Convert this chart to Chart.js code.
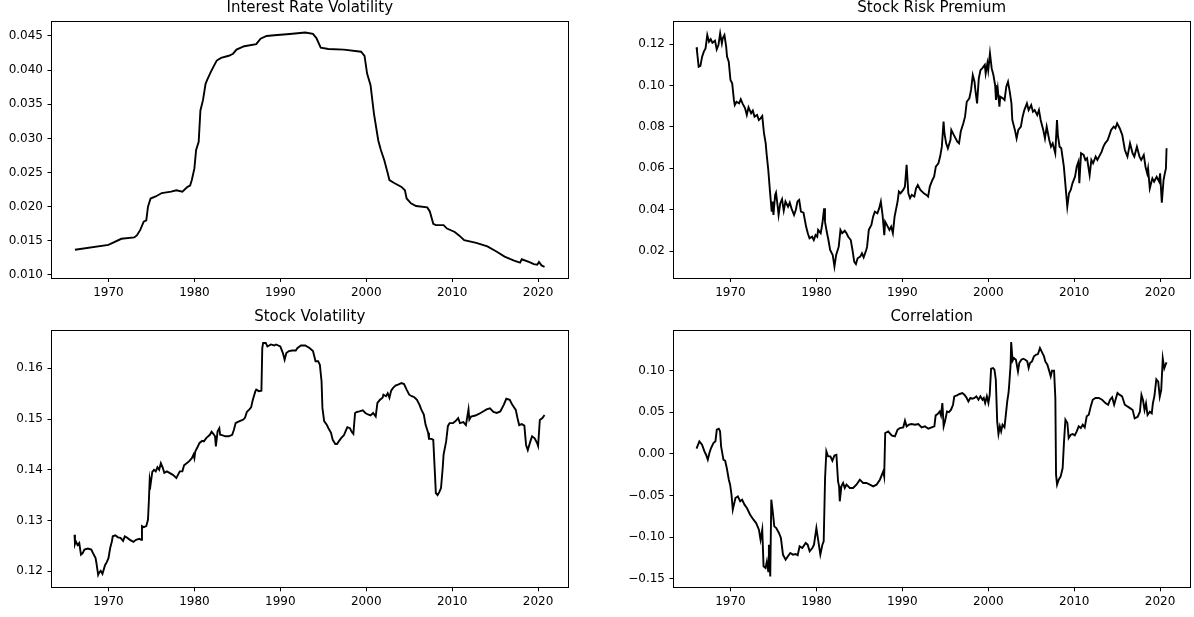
<!DOCTYPE html>
<html><head><meta charset="utf-8">
<script src="https://cdn.jsdelivr.net/npm/chart.js@4.4.1/dist/chart.umd.min.js"></script>
<style>
html,body{margin:0;padding:0;background:#fff;overflow:hidden}
#wrap{position:relative;width:1194px;height:617px;background:#fff}
#wrap canvas{position:absolute;left:0;top:0}
</style></head><body><div id="wrap">
<canvas id="c0" width="1194" height="617"></canvas>
<canvas id="c1" width="1194" height="617"></canvas>
<canvas id="c2" width="1194" height="617"></canvas>
<canvas id="c3" width="1194" height="617"></canvas>
</div>
<script>
// ---- data (year, value) ----
const xTickYears = [1970, 1980, 1990, 2000, 2010, 2020];
const xRange = [1963.37, 2023.48];

const titles = ["Interest Rate Volatility", "Stock Risk Premium", "Stock Volatility", "Correlation"];

const irvTicks = [0.010, 0.015, 0.020, 0.025, 0.030, 0.035, 0.040, 0.045];
const srpTicks = [0.02, 0.04, 0.06, 0.08, 0.10, 0.12];
const svTicks = [0.12, 0.13, 0.14, 0.15, 0.16];
const corrTicks = [-0.15, -0.10, -0.05, 0.00, 0.05, 0.10];

const irvSeries = [[1966.1,0.0137],[1970.0,0.0144],[1971.5,0.0153],[1973.0,0.0155],[1973.3,0.0158],[1973.7,0.0166],[1974.1,0.0178],[1974.4,0.0180],[1974.6,0.0200],[1974.9,0.0212],[1975.5,0.0215],[1976.2,0.0220],[1977.3,0.0222],[1977.9,0.0224],[1978.6,0.0222],[1979.2,0.0229],[1979.5,0.0231],[1979.7,0.0239],[1980.0,0.0256],[1980.2,0.0283],[1980.5,0.0295],[1980.7,0.0341],[1981.0,0.0356],[1981.3,0.0380],[1981.5,0.0386],[1981.9,0.0397],[1982.3,0.0407],[1982.6,0.0414],[1983.1,0.0418],[1984.0,0.0421],[1984.5,0.0424],[1984.9,0.0430],[1985.8,0.0435],[1987.2,0.0438],[1987.7,0.0446],[1988.4,0.0450],[1989.3,0.0451],[1991.1,0.0453],[1992.9,0.0455],[1993.8,0.0453],[1994.2,0.0447],[1994.7,0.0433],[1995.6,0.0431],[1997.4,0.0430],[1999.4,0.0427],[1999.8,0.0421],[2000.1,0.0395],[2000.5,0.0378],[2000.9,0.0336],[2001.4,0.0297],[2001.7,0.0283],[2002.1,0.0268],[2002.5,0.0249],[2002.7,0.0239],[2003.2,0.0235],[2004.1,0.0229],[2004.5,0.0224],[2004.7,0.0212],[2005.2,0.0205],[2005.8,0.0201],[2007.1,0.0199],[2007.4,0.0193],[2007.8,0.0175],[2008.1,0.0173],[2009.0,0.0173],[2009.4,0.0168],[2010.3,0.0163],[2010.8,0.0158],[2011.4,0.0151],[2012.8,0.0147],[2014.1,0.0142],[2015.2,0.0134],[2016.1,0.0127],[2017.2,0.0121],[2017.9,0.0118],[2018.1,0.0123],[2019.0,0.0119],[2019.5,0.0116],[2019.9,0.0115],[2020.1,0.0119],[2020.4,0.0114],[2020.75,0.0112]];

const srpSeries = [[1966.05,0.1184],[1966.1,0.1168],[1966.3,0.1090],[1966.5,0.1094],[1966.7,0.1139],[1966.9,0.1163],[1967.1,0.1179],[1967.3,0.1243],[1967.5,0.1211],[1967.7,0.1223],[1967.9,0.1206],[1968.2,0.1216],[1968.4,0.1174],[1968.6,0.1195],[1968.8,0.1252],[1969.0,0.1203],[1969.1,0.1227],[1969.3,0.1243],[1969.5,0.1187],[1969.6,0.1139],[1969.8,0.1115],[1970.0,0.1026],[1970.2,0.1010],[1970.4,0.0930],[1970.5,0.0905],[1970.7,0.0921],[1971.0,0.0913],[1971.2,0.0933],[1971.4,0.0913],[1971.7,0.0889],[1971.9,0.0857],[1972.1,0.0894],[1972.4,0.0865],[1972.6,0.0878],[1972.8,0.0849],[1973.1,0.0857],[1973.3,0.0833],[1973.5,0.0841],[1973.7,0.0852],[1973.9,0.0769],[1974.1,0.0720],[1974.2,0.0672],[1974.4,0.0592],[1974.6,0.0487],[1974.8,0.0390],[1974.9,0.0439],[1975.0,0.0374],[1975.2,0.0471],[1975.3,0.0482],[1975.5,0.0414],[1975.6,0.0374],[1975.8,0.0431],[1976.0,0.0450],[1976.2,0.0395],[1976.4,0.0439],[1976.7,0.0414],[1976.9,0.0434],[1977.1,0.0406],[1977.4,0.0374],[1977.6,0.0398],[1977.8,0.0439],[1978.0,0.0447],[1978.2,0.0390],[1978.5,0.0385],[1978.8,0.0318],[1979.0,0.0286],[1979.2,0.0261],[1979.5,0.0269],[1979.7,0.0253],[1979.9,0.0277],[1980.1,0.0269],[1980.2,0.0302],[1980.5,0.0286],[1980.7,0.0334],[1980.9,0.0406],[1981.0,0.0342],[1981.2,0.0294],[1981.4,0.0253],[1981.6,0.0205],[1981.9,0.0181],[1982.1,0.0125],[1982.3,0.0181],[1982.6,0.0221],[1982.8,0.0302],[1983.0,0.0286],[1983.3,0.0298],[1983.5,0.0286],[1983.7,0.0269],[1984.0,0.0253],[1984.2,0.0205],[1984.4,0.0149],[1984.6,0.0137],[1984.8,0.0165],[1985.1,0.0173],[1985.3,0.0189],[1985.5,0.0169],[1985.8,0.0205],[1985.9,0.0221],[1986.1,0.0302],[1986.4,0.0326],[1986.6,0.0366],[1986.8,0.0390],[1987.1,0.0382],[1987.3,0.0406],[1987.5,0.0439],[1987.7,0.0374],[1987.9,0.0277],[1988.0,0.0342],[1988.2,0.0326],[1988.5,0.0302],[1988.7,0.0318],[1988.9,0.0286],[1989.1,0.0366],[1989.45,0.0439],[1989.6,0.0487],[1989.8,0.0479],[1990.1,0.0495],[1990.3,0.0511],[1990.5,0.0616],[1990.7,0.0479],[1990.9,0.0455],[1991.1,0.0471],[1991.4,0.0463],[1991.6,0.0503],[1991.8,0.0519],[1992.1,0.0495],[1992.3,0.0487],[1992.5,0.0479],[1992.8,0.0471],[1993.0,0.0463],[1993.2,0.0511],[1993.5,0.0543],[1993.7,0.0559],[1993.9,0.0608],[1994.2,0.0624],[1994.4,0.0656],[1994.6,0.0704],[1994.8,0.0825],[1994.9,0.0769],[1995.1,0.0720],[1995.3,0.0696],[1995.6,0.0736],[1995.7,0.0785],[1996.0,0.0760],[1996.2,0.0744],[1996.4,0.0728],[1996.6,0.0720],[1996.8,0.0777],[1997.1,0.0817],[1997.3,0.0849],[1997.5,0.0921],[1997.8,0.0938],[1998.0,0.0978],[1998.2,0.1050],[1998.4,0.1018],[1998.5,0.0978],[1998.7,0.0913],[1998.9,0.1034],[1999.1,0.1074],[1999.3,0.1082],[1999.6,0.1099],[1999.7,0.1058],[1999.9,0.1107],[2000.0,0.1074],[2000.2,0.1155],[2000.4,0.1082],[2000.6,0.1050],[2000.8,0.1002],[2000.9,0.0930],[2001.1,0.0986],[2001.3,0.0897],[2001.4,0.0946],[2001.7,0.0938],[2001.9,0.0930],[2002.1,0.0994],[2002.3,0.1018],[2002.5,0.0970],[2002.7,0.0913],[2002.8,0.0833],[2003.1,0.0785],[2003.3,0.0744],[2003.5,0.0785],[2003.8,0.0801],[2004.0,0.0849],[2004.2,0.0881],[2004.5,0.0913],[2004.7,0.0881],[2005.0,0.0905],[2005.2,0.0873],[2005.4,0.0881],[2005.7,0.0857],[2005.9,0.0881],[2006.1,0.0833],[2006.4,0.0785],[2006.6,0.0744],[2006.8,0.0801],[2007.1,0.0736],[2007.3,0.0704],[2007.5,0.0720],[2007.8,0.0672],[2008.0,0.0833],[2008.1,0.0760],[2008.3,0.0704],[2008.5,0.0696],[2008.8,0.0608],[2009.0,0.0511],[2009.2,0.0414],[2009.4,0.0479],[2009.6,0.0495],[2009.8,0.0527],[2010.1,0.0559],[2010.3,0.0608],[2010.5,0.0632],[2010.6,0.0527],[2010.8,0.0672],[2011.1,0.0664],[2011.3,0.0640],[2011.5,0.0648],[2011.8,0.0567],[2012.0,0.0640],[2012.2,0.0624],[2012.5,0.0656],[2012.7,0.0640],[2012.9,0.0656],[2013.2,0.0680],[2013.4,0.0704],[2013.6,0.0720],[2013.9,0.0736],[2014.1,0.0760],[2014.3,0.0785],[2014.6,0.0801],[2014.8,0.0793],[2015.0,0.0817],[2015.3,0.0793],[2015.6,0.0760],[2015.9,0.0688],[2016.2,0.0656],[2016.5,0.0720],[2016.8,0.0672],[2017.0,0.0656],[2017.3,0.0704],[2017.6,0.0656],[2017.8,0.0640],[2018.1,0.0664],[2018.3,0.0607],[2018.5,0.0575],[2018.6,0.0599],[2018.8,0.0503],[2019.1,0.0551],[2019.3,0.0535],[2019.6,0.0559],[2019.9,0.0535],[2020.0,0.0575],[2020.2,0.0433],[2020.4,0.0543],[2020.55,0.0575],[2020.68,0.0599],[2020.75,0.0696]];

const svSeries = [[1966.05,0.1272],[1966.1,0.1254],[1966.2,0.1259],[1966.4,0.1252],[1966.6,0.1256],[1966.8,0.1233],[1967.0,0.1236],[1967.2,0.1243],[1967.6,0.1245],[1968.0,0.1243],[1968.2,0.1236],[1968.5,0.1226],[1968.6,0.1216],[1968.8,0.1193],[1968.9,0.1197],[1969.1,0.1201],[1969.3,0.1195],[1969.6,0.1212],[1969.8,0.1218],[1970.0,0.1226],[1970.2,0.1246],[1970.4,0.1259],[1970.5,0.1269],[1970.8,0.1271],[1971.1,0.1267],[1971.4,0.1266],[1971.7,0.1260],[1971.9,0.1269],[1972.1,0.1267],[1972.5,0.1262],[1972.9,0.1258],[1973.2,0.1262],[1973.6,0.1264],[1973.8,0.1262],[1973.9,0.1289],[1974.1,0.1287],[1974.4,0.1289],[1974.6,0.1302],[1974.7,0.1338],[1974.8,0.1381],[1974.9,0.1371],[1975.1,0.1396],[1975.3,0.1400],[1975.5,0.1397],[1975.7,0.1405],[1975.9,0.1400],[1976.1,0.1413],[1976.3,0.1405],[1976.5,0.1394],[1976.8,0.1397],[1977.1,0.1394],[1977.5,0.1390],[1977.9,0.1384],[1978.0,0.1387],[1978.3,0.1397],[1978.6,0.1397],[1978.8,0.1409],[1979.1,0.1413],[1979.4,0.1417],[1979.7,0.1423],[1979.9,0.1430],[1980.0,0.1423],[1980.1,0.1436],[1980.4,0.1446],[1980.6,0.1453],[1980.9,0.1457],[1981.1,0.1456],[1981.4,0.1463],[1981.8,0.1469],[1982.0,0.1475],[1982.2,0.1471],[1982.4,0.1466],[1982.5,0.1446],[1982.7,0.1476],[1982.9,0.1482],[1983.0,0.1469],[1983.3,0.1468],[1983.6,0.1466],[1984.0,0.1466],[1984.4,0.1469],[1984.6,0.1479],[1984.8,0.1492],[1985.0,0.1494],[1985.4,0.1497],[1985.7,0.1499],[1985.9,0.1503],[1986.1,0.1514],[1986.4,0.1519],[1986.6,0.1523],[1986.8,0.1538],[1987.1,0.1555],[1987.2,0.1558],[1987.5,0.1555],[1987.8,0.1556],[1987.9,0.1640],[1988.0,0.1650],[1988.3,0.1650],[1988.5,0.1643],[1988.9,0.1647],[1989.3,0.1645],[1989.5,0.1647],[1990.0,0.1643],[1990.3,0.1630],[1990.5,0.1617],[1990.7,0.1630],[1991.0,0.1634],[1991.4,0.1635],[1991.8,0.1635],[1992.0,0.1640],[1992.4,0.1645],[1992.9,0.1645],[1993.4,0.1640],[1993.8,0.1634],[1994.1,0.1614],[1994.4,0.1614],[1994.6,0.1607],[1994.8,0.1574],[1994.9,0.1522],[1995.1,0.1496],[1995.4,0.1489],[1995.6,0.1482],[1995.9,0.1473],[1996.1,0.1459],[1996.4,0.1451],[1996.6,0.1451],[1996.8,0.1456],[1997.1,0.1463],[1997.4,0.1468],[1997.6,0.1476],[1997.8,0.1484],[1998.1,0.1482],[1998.3,0.1475],[1998.5,0.1471],[1998.7,0.1512],[1998.9,0.1514],[1999.2,0.1515],[1999.6,0.1517],[1999.9,0.1512],[2000.2,0.1509],[2000.5,0.1507],[2000.8,0.1512],[2001.1,0.1505],[2001.3,0.1532],[2001.6,0.1538],[2001.9,0.1542],[2002.0,0.1548],[2002.3,0.1545],[2002.5,0.1551],[2002.7,0.1542],[2002.9,0.1556],[2003.1,0.1561],[2003.4,0.1566],[2003.7,0.1568],[2004.1,0.1571],[2004.4,0.1569],[2004.7,0.1558],[2005.0,0.1548],[2005.3,0.1545],[2005.6,0.1543],[2005.9,0.1538],[2006.2,0.1528],[2006.4,0.1519],[2006.7,0.1509],[2006.9,0.1489],[2007.2,0.1473],[2007.3,0.1461],[2007.6,0.1461],[2007.8,0.1459],[2008.0,0.1390],[2008.1,0.1354],[2008.3,0.1350],[2008.5,0.1356],[2008.7,0.1364],[2008.9,0.1404],[2009.0,0.1430],[2009.3,0.1456],[2009.5,0.1486],[2009.7,0.1492],[2010.1,0.1492],[2010.4,0.1496],[2010.7,0.1502],[2010.9,0.1492],[2011.3,0.1494],[2011.6,0.1488],[2011.9,0.1519],[2012.0,0.1499],[2012.2,0.1505],[2012.7,0.1507],[2013.1,0.1510],[2013.6,0.1515],[2014.0,0.1519],[2014.4,0.1521],[2014.8,0.1514],[2015.2,0.1512],[2015.6,0.1515],[2016.0,0.1528],[2016.3,0.1540],[2016.7,0.1538],[2017.0,0.1528],[2017.4,0.1518],[2017.6,0.1502],[2017.8,0.1488],[2018.1,0.1490],[2018.4,0.1487],[2018.6,0.1449],[2018.8,0.1439],[2019.1,0.1456],[2019.3,0.1466],[2019.6,0.1462],[2019.9,0.1452],[2020.0,0.1447],[2020.2,0.1498],[2020.5,0.1502],[2020.75,0.1508]];

const corrSeries = [[1966.05,0.0063],[1966.38,0.0151],[1966.69,0.0111],[1966.97,0.0031],[1967.16,-0.0010],[1967.36,-0.0070],[1967.55,0.0011],[1967.74,0.0071],[1968.02,0.0131],[1968.25,0.0151],[1968.41,0.0291],[1968.64,0.0303],[1968.79,0.0271],[1968.91,0.0091],[1969.18,-0.0070],[1969.38,-0.0082],[1969.57,-0.0170],[1969.81,-0.0310],[1969.96,-0.0370],[1970.12,-0.0490],[1970.27,-0.0670],[1970.58,-0.0530],[1970.86,-0.0510],[1971.13,-0.0570],[1971.36,-0.0550],[1971.63,-0.0610],[1971.91,-0.0650],[1972.29,-0.0731],[1972.68,-0.0791],[1972.99,-0.0831],[1973.31,-0.0911],[1973.50,-0.1031],[1973.70,-0.0911],[1973.85,-0.1351],[1974.08,-0.1371],[1974.24,-0.1291],[1974.40,-0.1411],[1974.47,-0.1091],[1974.63,-0.1472],[1974.75,-0.0550],[1974.94,-0.0711],[1975.10,-0.0871],[1975.33,-0.0891],[1975.64,-0.0951],[1975.87,-0.1011],[1976.11,-0.1211],[1976.42,-0.1271],[1976.69,-0.1231],[1976.96,-0.1191],[1977.27,-0.1211],[1977.58,-0.1203],[1977.82,-0.1219],[1978.05,-0.1111],[1978.36,-0.1131],[1978.75,-0.1071],[1978.98,-0.1091],[1979.22,-0.1171],[1979.53,-0.1131],[1979.72,-0.1091],[1980.00,-0.0891],[1980.23,-0.1051],[1980.46,-0.1211],[1980.70,-0.1091],[1980.85,-0.1051],[1981.01,-0.0290],[1981.16,0.0031],[1981.36,-0.0030],[1981.63,-0.0030],[1981.86,-0.0082],[1982.10,-0.0018],[1982.33,-0.0010],[1982.52,-0.0330],[1982.64,-0.0390],[1982.72,-0.0570],[1982.91,-0.0390],[1983.11,-0.0350],[1983.30,-0.0410],[1983.50,-0.0370],[1983.89,-0.0410],[1984.27,-0.0410],[1984.66,-0.0370],[1985.05,-0.0310],[1985.44,-0.0350],[1985.83,-0.0350],[1986.22,-0.0370],[1986.61,-0.0390],[1987.00,-0.0370],[1987.39,-0.0310],[1987.78,-0.0210],[1987.89,-0.0270],[1988.01,0.0251],[1988.36,0.0271],[1988.75,0.0223],[1989.14,0.0210],[1989.45,0.0291],[1989.72,0.0311],[1990.11,0.0319],[1990.31,0.0399],[1990.50,0.0331],[1990.77,0.0351],[1991.08,0.0359],[1991.47,0.0351],[1991.86,0.0359],[1992.25,0.0319],[1992.64,0.0331],[1993.03,0.0303],[1993.41,0.0319],[1993.73,0.0331],[1993.88,0.0463],[1994.11,0.0479],[1994.35,0.0511],[1994.50,0.0463],[1994.66,0.0611],[1994.81,0.0331],[1994.97,0.0391],[1995.20,0.0511],[1995.43,0.0503],[1995.67,0.0531],[1995.90,0.0591],[1996.05,0.0692],[1996.36,0.0704],[1996.67,0.0720],[1996.99,0.0732],[1997.22,0.0712],[1997.45,0.0680],[1997.69,0.0631],[1997.92,0.0672],[1998.15,0.0664],[1998.39,0.0672],[1998.62,0.0692],[1998.86,0.0651],[1999.09,0.0692],[1999.33,0.0651],[1999.48,0.0672],[1999.64,0.0611],[1999.84,0.0692],[2000.02,0.0611],[2000.17,0.0712],[2000.33,0.1024],[2000.56,0.1032],[2000.72,0.1012],[2000.88,0.0892],[2001.04,0.0391],[2001.19,0.0239],[2001.35,0.0331],[2001.50,0.0271],[2001.66,0.0351],[2001.89,0.0319],[2002.05,0.0471],[2002.21,0.0631],[2002.36,0.0732],[2002.44,0.0832],[2002.60,0.1072],[2002.67,0.1345],[2002.83,0.1120],[2002.99,0.1152],[2003.22,0.1132],[2003.46,0.0992],[2003.61,0.1092],[2003.85,0.1132],[2004.08,0.1144],[2004.31,0.1132],[2004.54,0.1112],[2004.70,0.1032],[2004.86,0.1092],[2005.09,0.1112],[2005.32,0.1172],[2005.55,0.1192],[2005.79,0.1200],[2006.02,0.1272],[2006.25,0.1224],[2006.49,0.1172],[2006.64,0.1112],[2006.88,0.1072],[2007.11,0.0992],[2007.27,0.0932],[2007.42,0.1000],[2007.66,0.1000],[2007.81,0.0672],[2007.89,-0.0250],[2008.01,-0.0370],[2008.20,-0.0310],[2008.43,-0.0270],[2008.66,-0.0170],[2008.82,0.0151],[2008.98,0.0411],[2009.21,0.0371],[2009.36,0.0191],[2009.60,0.0231],[2009.83,0.0239],[2010.07,0.0223],[2010.30,0.0271],[2010.53,0.0331],[2010.77,0.0311],[2011.00,0.0351],[2011.23,0.0319],[2011.46,0.0451],[2011.70,0.0471],[2011.93,0.0571],[2012.16,0.0651],[2012.48,0.0672],[2012.86,0.0672],[2013.25,0.0651],[2013.64,0.0611],[2013.95,0.0591],[2014.18,0.0651],[2014.42,0.0680],[2014.65,0.0591],[2014.81,0.0651],[2015.04,0.0732],[2015.27,0.0712],[2015.58,0.0692],[2015.89,0.0591],[2016.37,0.0559],[2016.81,0.0527],[2017.04,0.0427],[2017.39,0.0447],[2017.65,0.0507],[2017.83,0.0708],[2018.01,0.0647],[2018.19,0.0527],[2018.36,0.0607],[2018.54,0.0467],[2018.81,0.0507],[2019.03,0.0487],[2019.16,0.0607],[2019.34,0.0696],[2019.56,0.0896],[2019.78,0.0868],[2019.96,0.0688],[2020.13,0.0768],[2020.31,0.1148],[2020.49,0.1028],[2020.62,0.1068],[2020.75,0.1100]];

// ---- rendering ----
Chart.defaults.font.family = "'DejaVu Sans', sans-serif";
Chart.defaults.color = '#000';

const W = 1194, H = 617;
const panels = [
  {id:'c0', series:irvSeries, title:titles[0], ticks:irvTicks, dec:3, yMin:0.00956, yMax:0.04712, area:{l:51.5, t:21.5, r:568, b:278}, yw:51.5},
  {id:'c1', series:srpSeries, title:titles[1], ticks:srpTicks, dec:2, yMin:0.00696, yMax:0.13087, area:{l:673.5, t:21.5, r:1190, b:278}, yw:60},
  {id:'c2', series:svSeries, title:titles[2], ticks:svTicks, dec:2, yMin:0.11685, yMax:0.16739, area:{l:51.5, t:330.8, r:568, b:587.3}, yw:51.5},
  {id:'c3', series:corrSeries, title:titles[3], ticks:corrTicks, dec:2, yMin:-0.16034, yMax:0.14796, area:{l:673.5, t:330.8, r:1190, b:587.3}, yw:60}
];

const framePlugin = {
  id: 'frame',
  afterDraw(chart) {
    const a = chart.chartArea, ctx = chart.ctx;
    ctx.save();
    ctx.strokeStyle = '#000';
    ctx.lineWidth = 1;
    const x0 = Math.floor(a.left) + 0.5, x1 = Math.floor(a.right) + 0.5;
    const y0 = Math.floor(a.top) + 0.5, y1 = Math.floor(a.bottom) + 0.5;
    ctx.strokeRect(x0, y0, x1 - x0, y1 - y0);
    ctx.restore();
  }
};

function fmt(v, d) {
  const s = Math.abs(v).toFixed(d);
  return (v < -1e-12 ? '\u2212' : '') + s;
}

const TITLE_H = 21, XAXIS_H = 29;

panels.forEach(p => {
  const pad = {
    left: p.area.l - p.yw,
    right: W - p.area.r,
    top: p.area.t - TITLE_H,
    bottom: H - p.area.b - XAXIS_H
  };
  new Chart(document.getElementById(p.id), {
    type: 'line',
    data: {
      datasets: [{
        data: p.series.map(d => ({x: d[0], y: d[1]})),
        borderColor: '#000',
        borderWidth: 1.9,
        pointRadius: 0,
        tension: 0,
        fill: false
      }]
    },
    options: {
      responsive: false,
      animation: false,
      devicePixelRatio: 1,
      layout: {padding: pad},
      plugins: {
        legend: {display: false},
        tooltip: {enabled: false},
        title: {
          display: true,
          text: p.title,
          fullSize: false,
          color: '#000',
          font: {size: 15, weight: 'normal', lineHeight: 1},
          padding: {top: 0, bottom: 6}
        }
      },
      scales: {
        x: {
          type: 'linear',
          min: xRange[0], max: xRange[1],
          afterBuildTicks: s => { s.ticks = xTickYears.map(v => ({value: v})); },
          afterFit: s => { s.height = XAXIS_H; },
          ticks: {autoSkip: false, maxRotation: 0, padding: 3.5, color: '#000', font: {size: 12}, callback: v => String(v)},
          grid: {display: true, drawOnChartArea: false, drawTicks: true, tickLength: 4, color: '#000', lineWidth: 1},
          border: {display: false}
        },
        y: {
          type: 'linear',
          min: p.yMin, max: p.yMax,
          afterBuildTicks: s => { s.ticks = p.ticks.map(v => ({value: v})); },
          afterFit: s => { s.width = p.yw; },
          ticks: {autoSkip: false, padding: 4.5, color: '#000', font: {size: 12}, callback: v => fmt(v, p.dec)},
          grid: {display: true, drawOnChartArea: false, drawTicks: true, tickLength: 4, color: '#000', lineWidth: 1},
          border: {display: false}
        }
      }
    },
    plugins: [framePlugin]
  });
});
</script>
</body></html>
